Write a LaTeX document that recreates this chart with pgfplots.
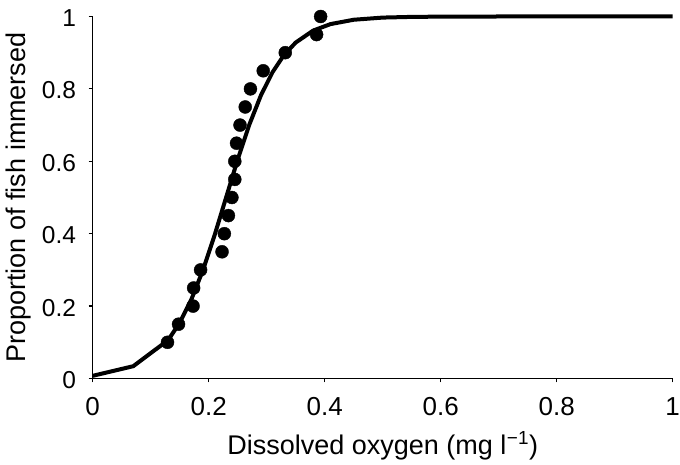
\documentclass[border=0pt]{standalone}
\usepackage{pgfplots}
\pgfplotsset{compat=1.18}
\usepackage{fontspec}
\setmainfont{Liberation Sans}
\begin{document}
\begin{tikzpicture}
\begin{axis}[
  at={(0,0)}, anchor=south west,
  scale only axis, width=580pt, height=362pt,
  xmin=0, xmax=1, ymin=0, ymax=1,
  axis lines=left, axis line style={line width=1.4pt, -},
  xtick={0,0.2,0.4,0.6,0.8,1}, ytick={0,0.2,0.4,0.6,0.8,1},
  tick align=outside, major tick length=4pt,
  tick style={line width=1.2pt, black},
  /pgf/number format/assume math mode=true,
  /pgf/number format/fixed,
  xticklabel style={font=\fontsize{26}{30}\selectfont, anchor=base, inner sep=0pt, yshift=-33pt},
  yticklabel style={font=\fontsize{24.5}{29}\selectfont, anchor=east, inner sep=0pt, xshift=-12.5pt, yshift=-1.5pt},
  xlabel={Dissolved oxygen (mg l\textsuperscript{\kern0.5pt−1})},
  ylabel={Proportion of fish immersed},
  label style={font=\fontsize{27}{31}\selectfont},
  xlabel style={at={(axis description cs:0.5,-0.2086)}, anchor=base, inner sep=0pt},
  ylabel style={at={(axis description cs:-0.1155,0.5)}, anchor=base, inner sep=0pt},
  clip=false,
]
\addplot[black, line width=4pt, line join=round] coordinates {
 (0,0.0074) (0.07,0.034) (0.13,0.106) (0.15,0.154) (0.17,0.218)
 (0.19,0.299) (0.21,0.395) (0.23,0.5) (0.25,0.605) (0.27,0.701) (0.29,0.782)
 (0.31,0.846) (0.33,0.894) (0.35,0.928) (0.38,0.961) (0.41,0.979) (0.45,0.991)
 (0.5,0.997) (0.55,0.9989) (0.6,0.9996) (0.7,1.0) (0.8,1.0) (0.9,1.0) (1.0,1.0)
};
\addplot[only marks, mark=*, mark size=6.5pt, black] coordinates {
 (0.129,0.10) (0.148,0.15) (0.173,0.20) (0.174,0.25) (0.186,0.30)
 (0.223,0.35) (0.227,0.40) (0.234,0.45) (0.240,0.50) (0.245,0.55)
 (0.245,0.60) (0.248,0.65) (0.254,0.70) (0.263,0.75) (0.272,0.80)
 (0.294,0.85) (0.332,0.90) (0.386,0.95) (0.393,1.00)
};
\end{axis}
\path[use as bounding box] (-92.7pt,-86.5pt) rectangle (587.3pt,378.5pt);
\end{tikzpicture}
\end{document}
